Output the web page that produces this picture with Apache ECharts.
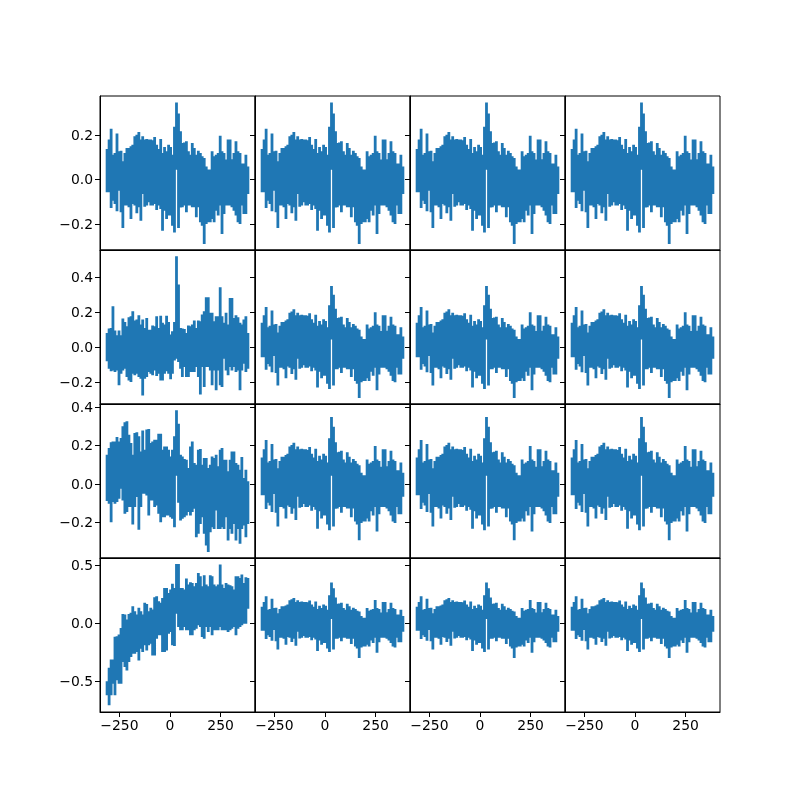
<!DOCTYPE html>
<html>
<head>
<meta charset="utf-8">
<style>html,body{margin:0;padding:0;background:#fff}#c{width:800px;height:800px}</style>
<script src="https://cdn.jsdelivr.net/npm/echarts@6/dist/echarts.min.js"></script>
</head>
<body>
<div id="c"></div>
<script>
const sampleX = [-311,-301,-291,-282,-272,-262,-252,-242,-233,-223,-213,-203,-193,-184,-174,-164,-154,-144,-135,-125,-115,-105,-95,-86,-76,-66,-56,-46,-37,-27,-17,-7,3,12,22,32,42,52,61,71,81,91,101,110,120,130,140,150,159,169,179,189,199,208,218,228,238,248,257,267,277,287,297,306,316,326,336,346,355,365,375,385];
const upperA = [.131,.173,.221,.105,.113,.2,.12,.123,.075,.113,.135,.135,.143,.15,.188,.195,.207,.173,.188,.173,.176,.173,.173,.17,.185,.15,.131,.176,.113,.14,.12,.15,.14,.105,.23,.34,.29,.21,.158,.16,.165,.12,.105,.158,.135,.105,.123,.113,.098,.09,.052,.038,.038,.12,.098,.105,.113,.19,.12,.113,.083,.173,.173,.085,.113,.165,.12,.113,.065,.065,.105,.052];
const lowerA = [-.051,-.051,-.122,-.089,-.104,-.137,-.044,-.141,-.212,-.111,-.111,-.119,-.171,-.104,-.111,-.146,-.119,-.179,-.059,-.116,-.111,-.096,-.111,-.111,-.104,-.131,-.111,-.126,-.224,-.134,-.171,-.156,-.156,-.202,-.232,.05,-.212,-.12,-.119,-.111,-.141,-.111,-.111,-.119,-.119,-.164,-.119,-.186,-.202,-.284,-.194,-.186,-.186,-.171,-.186,-.134,-.156,-.111,-.239,-.149,-.111,-.111,-.111,-.119,-.134,-.156,-.186,-.194,-.111,-.149,-.149,-.059];
const upperB = [.072,.097,.101,.225,.086,.059,.086,.059,.154,.135,.11,.162,.168,.196,.143,.149,.173,.12,.149,.101,.158,.091,.091,.114,.11,.168,.101,.171,.13,.12,.171,.135,.063,.082,.135,.51,.349,.101,.097,.095,.072,.114,.11,.12,.143,.101,.143,.139,.177,.196,.276,.276,.187,.187,.139,.168,.168,.333,.168,.13,.187,.12,.272,.272,.158,.173,.162,.13,.12,.149,.168,.072];
const lowerB = [-.074,-.116,-.131,-.126,-.135,-.126,-.211,-.145,-.126,-.116,-.164,-.183,-.192,-.145,-.154,-.145,-.164,-.173,-.269,-.173,-.164,-.135,-.145,-.154,-.126,-.158,-.145,-.183,-.183,-.145,-.131,-.145,-.177,-.145,-.069,-.059,-.078,-.116,-.164,-.107,-.164,-.164,-.135,-.135,-.135,-.107,-.164,-.263,-.107,-.221,-.107,-.107,-.126,-.211,-.126,-.24,-.126,-.211,-.221,-.059,-.126,-.154,-.107,-.126,-.107,-.135,-.126,-.24,-.126,-.088,-.135,-.116];
const upperC = [.145,.18,.209,.214,.214,.237,.214,.231,.292,.313,.318,.249,.206,.145,.257,.261,.24,.162,.271,.171,.275,.278,.206,.214,.223,.223,.254,.254,.171,.188,.188,.171,.136,.171,.24,.375,.306,.145,.136,.123,.119,.076,.188,.214,.102,.093,.171,.174,.093,.128,.128,.076,.093,.136,.128,.145,.085,.171,.18,.119,.119,.059,.119,.162,.162,.102,.093,.067,.133,.024,.067,.007];
const lowerC = [-.081,-.095,-.19,-.086,-.095,-.086,-.069,-.017,-.078,-.147,-.138,-.112,-.112,-.202,-.112,-.06,-.23,-.112,-.043,-.043,-.052,-.155,-.078,-.078,-.112,-.104,-.147,-.19,-.164,-.164,-.155,-.155,-.164,-.173,-.216,.05,-.09,-.182,-.173,-.164,-.155,-.138,-.155,-.138,-.121,-.268,-.25,-.199,-.164,-.25,-.311,-.345,-.242,-.216,-.225,-.13,-.225,-.225,-.216,-.225,-.164,-.285,-.225,-.25,-.199,-.285,-.225,-.302,-.225,-.207,-.268,-.199];
const upperD = [-.508,-.393,-.322,-.322,-.127,-.122,-.107,-.05,.07,.064,.021,.07,.079,.136,.093,.064,.122,.093,.064,.165,.156,.093,.122,.107,.213,.222,.179,.165,.207,.293,.293,.25,.279,.328,.293,.499,.499,.293,.293,.279,.373,.322,.342,.336,.308,.336,.422,.393,.308,.402,.322,.308,.402,.393,.322,.308,.322,.494,.322,.293,.336,.322,.316,.308,.279,.393,.393,.379,.408,.336,.385,.379];
const lowerD = [-.605,-.691,-.605,-.505,-.605,-.476,-.505,-.505,-.319,-.362,-.391,-.319,-.276,-.247,-.247,-.233,-.305,-.205,-.233,-.176,-.219,-.176,-.162,-.262,-.262,-.119,-.09,-.09,-.233,-.233,-.219,-.076,-.062,-.176,-.182,.096,-.019,-.047,-.047,-.019,-.047,-.047,-.09,-.09,-.047,-.033,-.004,-.019,-.104,-.119,-.019,-.062,-.019,-.09,-.047,-.047,-.047,-.019,-.047,-.047,-.047,-.062,-.047,-.033,-.019,-.09,-.033,-.019,-.004,.01,.01,.139];
const xTicks = [-250, 0, 250];
const yTicksByRow = [[-0.2,0,0.2],[-0.2,0,0.2,0.4],[-0.2,0,0.2,0.4],[-0.5,0,0.5]];
const yMinByRow = [-0.317,-0.326,-0.383,-0.76];
const yMaxByRow = [0.375,0.554,0.415,0.562];
const xMin = -346, xMax = 420;

// Each sample is one separate vertical stroke from its high to its low reading.
function strokes(upper, lower) {
  const pts = [];
  sampleX.forEach((x, i) => {
    pts.push([x, upper[i]]);
    pts.push([x, lower[i]]);
    pts.push([x, null]);
  });
  return pts;
}
const A = strokes(upperA, lowerA), B = strokes(upperB, lowerB), C = strokes(upperC, lowerC), D = strokes(upperD, lowerD);
const panelData = [[A,A,A,A],[B,A,A,A],[C,A,A,A],[D,A,A,A]];
const minus = v => String(v).replace('-', '\u2212');
const font = {fontFamily:'DejaVu Sans', fontSize:13.9, color:'#000'};
const grid=[], xAxis=[], yAxis=[], series=[];
for (let r=0;r<4;r++) for (let c=0;c<4;c++) {
  const k = grid.length;
  grid.push({show:true, left:100+155*c, top:96+154*r, width:155, height:154, borderColor:'#000', borderWidth:1, backgroundColor:'#fff', containLabel:false});
  xAxis.push({type:'value', gridIndex:k, min:xMin, max:xMax, splitLine:{show:false},
    axisLine:{show:true, onZero:false, lineStyle:{color:'#000',width:1}},
    axisTick:{show:r===3, length:5, customValues:xTicks, lineStyle:{color:'#000',width:1}},
    axisLabel:{show:r===3, margin:7, customValues:xTicks, formatter:minus, ...font, hideOverlap:false, showMinLabel:true, showMaxLabel:true}});
  yAxis.push({type:'value', gridIndex:k, min:yMinByRow[r], max:yMaxByRow[r], splitLine:{show:false},
    axisLine:{show:true, onZero:false, lineStyle:{color:'#000',width:1}},
    axisTick:{show:true, length:5, customValues:yTicksByRow[r], lineStyle:{color:'#000',width:1}},
    axisLabel:{show:c===0, margin:7, customValues:yTicksByRow[r], formatter:v=>'{t|'+minus(v.toFixed(1))+'}', ...font, hideOverlap:false, showMinLabel:true, showMaxLabel:true,
      rich:{t:{...font, padding:[2,0,0,0]}}}});
  series.push({type:'line', xAxisIndex:k, yAxisIndex:k, data:panelData[r][c], showSymbol:false, symbol:'none', sampling:null, silent:true, connectNulls:false,
    lineStyle:{color:'#1f77b4', width:2.8, cap:'square', join:'bevel'}, animation:false, clip:true});
}
const chart = echarts.init(document.getElementById('c'), null, {renderer:'canvas'});
chart.setOption({animation:false, backgroundColor:'#fff', grid, xAxis, yAxis, series});
</script>
</body>
</html>
